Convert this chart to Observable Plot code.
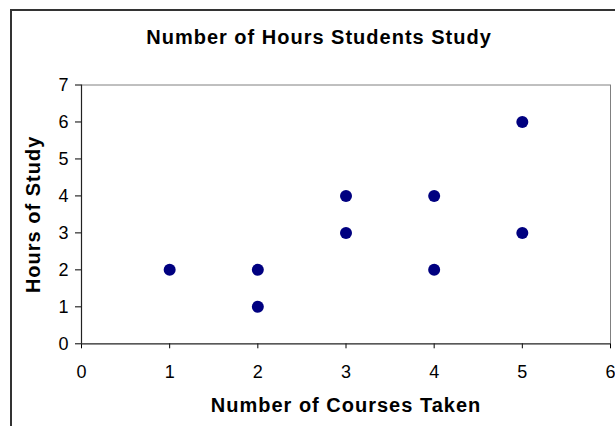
<!DOCTYPE html>
<html>
<head>
<meta charset="utf-8">
<script src="https://cdn.jsdelivr.net/npm/d3@7"></script>
<script src="https://cdn.jsdelivr.net/npm/@observablehq/plot@0.6"></script>
<style>
  html, body { margin: 0; padding: 0; background: white; }
  #chart { width: 615px; height: 426px; overflow: hidden; }
</style>
</head>
<body>
<div id="chart"></div>
<script>
const courses = [1, 2, 2, 3, 3, 4, 4, 5, 5];
const hours   = [2, 2, 1, 4, 3, 4, 2, 6, 3];
const xTicks = [0, 1, 2, 3, 4, 5, 6];
const yTicks = [0, 1, 2, 3, 4, 5, 6, 7];
const titleText = "Number of Hours Students Study";
const xLabel = "Number of Courses Taken";
const yLabel = "Hours of Study";

const data = courses.map((c, i) => ({courses: c, hours: hours[i]}));
const font = "'Liberation Sans', Arial, Helvetica, sans-serif";

const plot = Plot.plot({
  width: 615,
  height: 426,
  marginLeft: 81,
  marginRight: 5,
  marginTop: 84.5,
  marginBottom: 82.7,
  style: {fontFamily: font, fontSize: "18px", color: "#000", background: "white", overflow: "visible"},
  x: {domain: [0, 6]},
  y: {domain: [0, 7]},
  marks: [
    Plot.ruleY([7], {stroke: "#808080"}),
    Plot.ruleX([6], {stroke: "#808080"}),
    Plot.axisX({ticks: xTicks, tickSize: 5, tickPadding: 16, label: null, tickFormat: d => d, stroke: "#000", fontSize: 18}),
    Plot.axisY({ticks: yTicks, tickSize: 6, tickPadding: 7, label: null, tickFormat: d => d, stroke: "#000", fontSize: 18}),
    Plot.ruleX([0], {stroke: "#222", strokeWidth: 1.2}),
    Plot.ruleY([0], {stroke: "#222", strokeWidth: 1.2}),
    Plot.dot(data, {x: "courses", y: "hours", r: 6, fill: "#000080", stroke: "none"}),
    Plot.text([titleText], {text: d => d, frameAnchor: "top", textAnchor: "middle", lineAnchor: "bottom", dx: -27, dy: -41, fontSize: 20, fontWeight: "bold", fill: "#000"}),
    Plot.text([xLabel], {text: d => d, frameAnchor: "bottom", textAnchor: "middle", lineAnchor: "bottom", dx: 0, dy: 68, fontSize: 20, fontWeight: "bold", fill: "#000"}),
    Plot.text([yLabel], {text: d => d, frameAnchor: "left", textAnchor: "middle", lineAnchor: "middle", rotate: -90, dx: -48, fontSize: 20, fontWeight: "bold", fill: "#000"})
  ]
});

const svg = d3.select(plot);
const bigLabels = new Set([titleText, xLabel, yLabel]);
svg.selectAll("text").each(function() {
  if (bigLabels.has(this.textContent)) {
    this.setAttribute("letter-spacing", "1");
    this.style.letterSpacing = "1px";
  }
});
svg.append("path")
  .attr("d", "M11,426V10H615")
  .attr("fill", "none")
  .attr("stroke", "#333")
  .attr("stroke-width", 2);

document.getElementById("chart").appendChild(plot);
</script>
</body>
</html>
